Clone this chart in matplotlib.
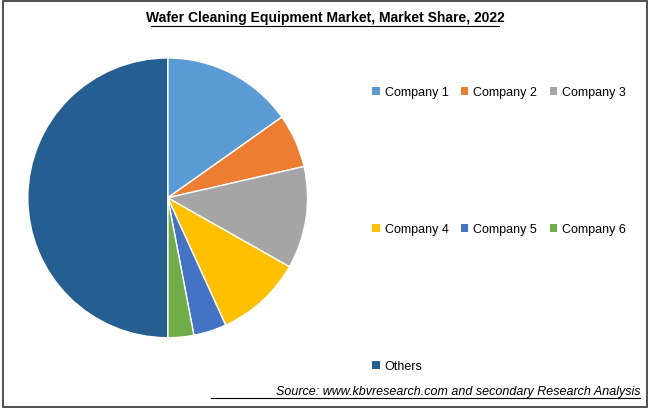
import matplotlib
matplotlib.use("Agg")
import matplotlib.pyplot as plt
from matplotlib.patches import Rectangle, Patch

labels = ["Company 1", "Company 2", "Company 3", "Company 4", "Company 5", "Company 6", "Others"]
shares = [15.2, 6.2, 11.8, 10.0, 3.8, 3.0, 50.0]
colors = ["#5B9BD5", "#ED7D31", "#A5A5A5", "#FFC000", "#4472C4", "#70AD47", "#255E91"]

fig = plt.figure(figsize=(6.5, 4.1), dpi=100)
fig.patches.append(Rectangle((0.004, 0.006), 0.992, 0.988, transform=fig.transFigure,
                             fill=False, edgecolor="#333333", linewidth=1.2))
fig.text(0.5, 0.955, "Wafer Cleaning Equipment Market, Market Share, 2022",
         ha="center", va="center", fontsize=10, fontweight="bold", fontfamily="Liberation Sans")
fig.add_artist(plt.Line2D([0.233, 0.767], [0.935, 0.935], color="black", linewidth=0.8))

ax = fig.add_axes([-0.011, 0.088, 0.538, 0.854])
ax.pie(shares, colors=colors, startangle=90, counterclock=False,
       wedgeprops=dict(edgecolor="white", linewidth=1))
ax.set_aspect("equal")

handles = [Patch(facecolor=c, label=l) for c, l in zip(colors, labels)]
order = [0, 3, 6, 1, 4, 2, 5]
fig.legend(handles=[handles[i] for i in order], ncol=3, loc="upper left",
           bbox_to_anchor=(0.555, 0.815), frameon=False,
           handlelength=0.6, handleheight=0.6,
           handletextpad=0.4, columnspacing=1.0, labelspacing=10.0,
           prop={"family": "Liberation Sans", "size": 9})

fig.text(0.985, 0.045, "Source: www.kbvresearch.com and secondary Research Analysis",
         ha="right", va="center", fontsize=9, fontstyle="italic", fontfamily="Liberation Sans")
fig.add_artist(plt.Line2D([0.325, 0.985], [0.028, 0.028], color="black", linewidth=0.8))

fig.savefig("out.png", dpi=100)
